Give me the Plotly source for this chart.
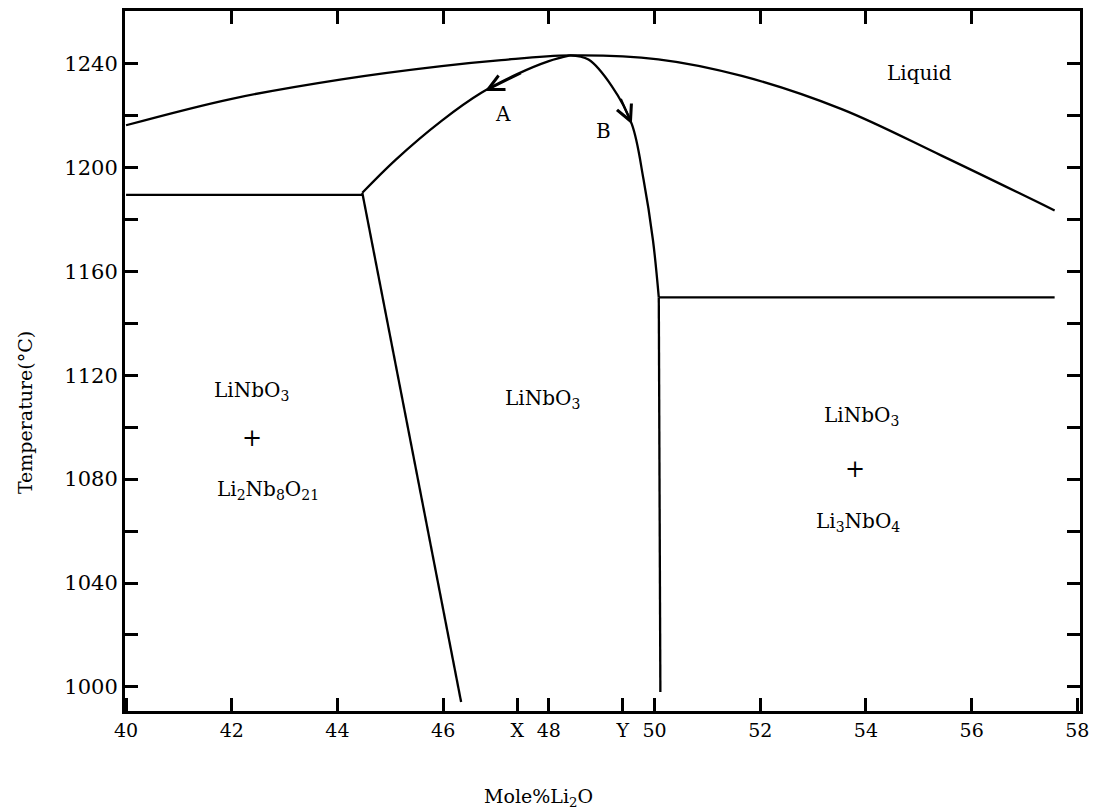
import plotly.graph_objects as go

# ---------------- data ----------------
liquidus_x = [40.0, 42.0, 44.08, 45.97, 47.1, 48.4, 50.07, 51.65, 53.54, 55.43, 57.57]
liquidus_T = [1216.3, 1226.5, 1234.0, 1239.1, 1241.4, 1243.2, 1241.7, 1235.3, 1222.5, 1204.6, 1183.5]

eutectic_left_x = [40.0, 44.47]
eutectic_left_T = [1189.5, 1189.5]

curveA_x = [44.47, 45.1, 45.97, 46.73, 47.4, 48.0, 48.4]
curveA_T = [1190.3, 1203.0, 1218.0, 1228.9, 1236.0, 1241.0, 1243.2]

solvus_left_x = [44.47, 46.34]
solvus_left_T = [1190.3, 994.2]

curveB_x = [48.4, 48.75, 49.19, 49.57, 49.79, 49.97, 50.08]
curveB_T = [1243.2, 1241.6, 1231.4, 1216.7, 1195.6, 1172.0, 1150.0]

solvus_right_x = [50.08, 50.11]
solvus_right_T = [1150.0, 998.0]

eutectic_right_x = [50.08, 57.57]
eutectic_right_T = [1150.0, 1150.0]

x_tickvals = [40, 42, 44, 46, 47.4, 48, 49.4, 50, 52, 54, 56, 58]
x_ticktext = ["40", "42", "44", "46", "X", "48", "Y", "50", "52", "54", "56", "58"]
top_tickvals = [42, 44, 46, 48, 50, 52, 54, 56]
y_major = list(range(1000, 1241, 40))
y_minor = list(range(1020, 1241, 40))
y_all = list(range(1000, 1241, 20))

region_labels = [
    ("Liquid", 55.02, 1236.5, 20),
    ("A", 47.14, 1220.5, 20),
    ("B", 49.03, 1214.2, 20),
    ("LiNbO<sub>3</sub>", 42.38, 1113.8, 20),
    ("+", 42.38, 1095.9, 24),
    ("Li<sub>2</sub>Nb<sub>8</sub>O<sub>21</sub>", 42.69, 1076.0, 20),
    ("LiNbO<sub>3</sub>", 47.88, 1110.7, 20),
    ("LiNbO<sub>3</sub>", 53.91, 1104.2, 20),
    ("+", 53.79, 1083.8, 24),
    ("Li<sub>3</sub>NbO<sub>4</sub>", 53.84, 1063.6, 20),
]

# arrows: (head_x, head_T, tail_x, tail_T)
arrows = [
    (46.79, 1229.5, 47.5, 1236.6),
    (49.57, 1216.7, 49.35, 1227.0),
]

FONT = "DejaVu Serif"
LW = 2.3

fig = go.Figure()

def add_line(x, y, shape="linear"):
    fig.add_trace(go.Scatter(x=x, y=y, mode="lines",
                             line=dict(color="black", width=LW, shape=shape),
                             showlegend=False, hoverinfo="skip"))

add_line(liquidus_x, liquidus_T, "spline")
add_line(eutectic_left_x, eutectic_left_T)
add_line(curveA_x, curveA_T, "spline")
add_line(solvus_left_x, solvus_left_T)
add_line(curveB_x, curveB_T, "spline")
add_line(solvus_right_x, solvus_right_T)
add_line(eutectic_right_x, eutectic_right_T)

# dummy trace for top / right tick axes
fig.add_trace(go.Scatter(x=[None], y=[None], xaxis="x2", yaxis="y2", mode="lines",
                         showlegend=False, hoverinfo="skip"))

for text, x, y, size in region_labels:
    fig.add_annotation(x=x, y=y, text=text, showarrow=False,
                       font=dict(family=FONT, size=size, color="black"))

for hx, hy, tx, ty in arrows:
    fig.add_annotation(x=hx, y=hy, ax=tx, ay=ty, xref="x", yref="y",
                       axref="x", ayref="y", text="", showarrow=True,
                       arrowhead=5, arrowsize=1.4, arrowwidth=2.2,
                       arrowcolor="black")

# axis titles as annotations (offset positions)
fig.add_annotation(xref="paper", yref="paper", x=0.433, y=-0.124,
                   xanchor="center", yanchor="middle",
                   text="Mole%Li<sub>2</sub>O", showarrow=False,
                   font=dict(family=FONT, size=19, color="black"))
fig.add_annotation(xref="paper", yref="paper", x=-0.1046, y=0.4257,
                   xanchor="center", yanchor="middle",
                   text="Temperature(°C)", textangle=-90, showarrow=False,
                   font=dict(family=FONT, size=19, color="black"))

xr = [39.98, 58.05]
yr = [990.7, 1260.3]
tick_style = dict(ticks="inside", ticklen=13, tickwidth=2.5, tickcolor="black")

fig.update_layout(
    width=1097, height=809,
    margin=dict(l=125, r=16, t=8, b=98),
    plot_bgcolor="white", paper_bgcolor="white",
    xaxis=dict(range=xr, tickmode="array", tickvals=x_tickvals, ticktext=x_ticktext,
               **tick_style,
               showline=True, linewidth=3, linecolor="black", mirror=True,
               showgrid=False, zeroline=False,
               tickfont=dict(family=FONT, size=19, color="black")),
    xaxis2=dict(range=xr, overlaying="x", side="top", anchor="y2",
                tickmode="array", tickvals=top_tickvals, showticklabels=False,
                **tick_style, showline=False, showgrid=False, zeroline=False),
    yaxis=dict(range=yr, tickmode="array", tickvals=y_major,
               **tick_style,
               minor=dict(tickmode="array", tickvals=y_minor, ticks="inside",
                          ticklen=13, tickwidth=2.5, tickcolor="black", showgrid=False),
               showline=True, linewidth=3, linecolor="black", mirror=True,
               showgrid=False, zeroline=False,
               tickfont=dict(family=FONT, size=21, color="black")),
    yaxis2=dict(range=yr, overlaying="y", side="right", anchor="x2",
                tickmode="array", tickvals=y_all, showticklabels=False,
                **tick_style, showline=False, showgrid=False, zeroline=False),
)

fig.write_html("out.html")
